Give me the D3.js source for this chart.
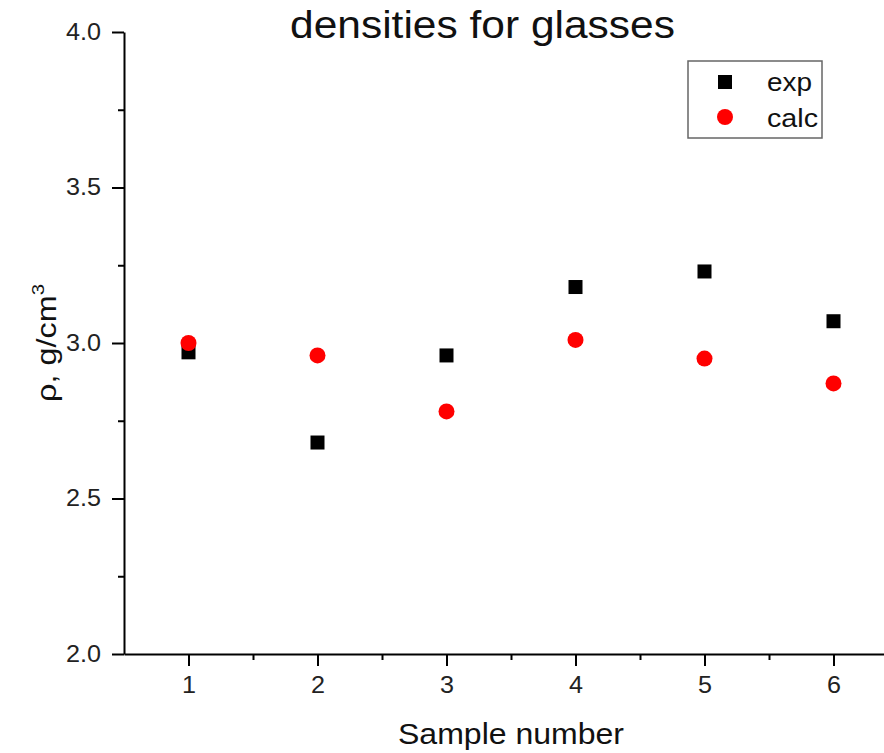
<!DOCTYPE html>
<html>
<head>
<meta charset="utf-8">
<script src="https://cdn.jsdelivr.net/npm/d3@7"></script>
<style>
  body { margin: 0; background: #fff; }
  svg { display: block; font-family: "Liberation Sans", Arial, sans-serif; }
</style>
</head>
<body>
<div id="chart"></div>
<script>
// data
var samples = [1, 2, 3, 4, 5, 6];
var expValues = [2.97, 2.68, 2.96, 3.18, 3.23, 3.07];
var calcValues = [3.00, 2.96, 2.78, 3.01, 2.95, 2.87];
var xTicks = [1, 2, 3, 4, 5, 6];
var yTicks = [2.0, 2.5, 3.0, 3.5, 4.0];
var seriesNames = ["exp", "calc"];

var svgWidth = 884;
var svgHeight = 753;
var margin = {top: 32, left: 124};
var width = 774;   // x axis runs on past the right edge
var height = 622;

// the source picture is a little wider than it is tall, stretch text to fit
var stretch = 1.16;

var svg = d3.select("#chart").append("svg")
    .attr("width", svgWidth).attr("height", svgHeight);

var chart = svg.append("g")
    .attr("transform", `translate(${margin.left},${margin.top})`);

var xScale = d3.scaleLinear().domain([0.5, 6.5]).range([0, width]);
var yScale = d3.scaleLinear().domain([2.0, 4.0]).range([height, 0]);

// minor ticks first
chart.append("g")
    .attr("class", "x-minor")
    .attr("transform", `translate(0,${height})`)
    .call(d3.axisBottom(xScale).tickValues([1.5, 2.5, 3.5, 4.5, 5.5]).tickSize(6).tickFormat(""));
chart.append("g")
    .attr("class", "y-minor")
    .call(d3.axisLeft(yScale).tickValues([2.25, 2.75, 3.25, 3.75]).tickSize(6).tickFormat(""));

chart.append("g")
    .attr("class", "x-axis")
    .attr("transform", `translate(0,${height})`)
    .call(d3.axisBottom(xScale).tickValues(xTicks).tickSize(12).tickSizeOuter(0).tickPadding(11).tickFormat(d3.format("d")));
chart.append("g")
    .attr("class", "y-axis")
    .call(d3.axisLeft(yScale).tickValues(yTicks).tickSize(12).tickSizeOuter(0).tickPadding(11).tickFormat(d3.format(".1f")));

svg.selectAll(".domain").attr("stroke", "#000").attr("stroke-width", 2);
svg.selectAll(".tick line").attr("stroke", "#000").attr("stroke-width", 2);
svg.selectAll(".x-minor .domain, .y-minor .domain").remove();

svg.selectAll(".x-axis .tick text")
    .attr("font-family", "Liberation Sans, Arial, sans-serif")
    .attr("font-size", "23px")
    .attr("fill", "#222")
    .attr("textLength", 14)
    .attr("lengthAdjust", "spacingAndGlyphs");
svg.selectAll(".y-axis .tick text")
    .attr("font-family", "Liberation Sans, Arial, sans-serif")
    .attr("font-size", "23px")
    .attr("fill", "#222")
    .attr("textLength", 35)
    .attr("lengthAdjust", "spacingAndGlyphs");

// exp points (squares)
var sq = 14;
chart.selectAll("rect.exp")
    .data(samples)
    .enter()
    .append("rect")
    .attr("class", "exp")
    .attr("x", function (d) { return xScale(d) - sq / 2; })
    .attr("y", function (d, i) { return yScale(expValues[i]) - sq / 2; })
    .attr("width", sq)
    .attr("height", sq)
    .attr("fill", "#000");

// calc points (circles)
chart.selectAll("circle.calc")
    .data(samples)
    .enter()
    .append("circle")
    .attr("class", "calc")
    .attr("cx", function (d) { return xScale(d); })
    .attr("cy", function (d, i) { return yScale(calcValues[i]); })
    .attr("r", 8)
    .attr("fill", "#ff0000");

// title
svg.append("text")
    .attr("x", 290)
    .attr("y", 38)
    .attr("font-size", "38px")
    .attr("fill", "#111")
    .attr("textLength", 385)
    .attr("lengthAdjust", "spacingAndGlyphs")
    .text("densities for glasses");

// x title
svg.append("text")
    .attr("x", 398)
    .attr("y", 744)
    .attr("font-size", "30px")
    .attr("fill", "#111")
    .attr("textLength", 226)
    .attr("lengthAdjust", "spacingAndGlyphs")
    .text("Sample number");

// y title
var yTitle = svg.append("text")
    .attr("transform", `translate(56,343)rotate(-90)scale(${stretch + 0.04},1)`)
    .attr("text-anchor", "middle")
    .attr("font-size", "27px")
    .attr("fill", "#111");
yTitle.append("tspan").text("ρ, g/cm");
yTitle.append("tspan").attr("font-size", "17px").attr("dy", "-12").text("3");

// legend
var legend = svg.append("g").attr("transform", "translate(688,61)");
legend.append("rect")
    .attr("width", 134)
    .attr("height", 77)
    .attr("fill", "#fff")
    .attr("stroke", "#666")
    .attr("stroke-width", 1.5);
legend.append("rect")
    .attr("x", 37 - sq / 2).attr("y", 21 - sq / 2)
    .attr("width", sq).attr("height", sq)
    .attr("fill", "#000");
legend.append("circle")
    .attr("cx", 37).attr("cy", 56).attr("r", 8)
    .attr("fill", "#ff0000");
var legendWidths = [45, 51];
legend.selectAll("text.label")
    .data(seriesNames)
    .enter()
    .append("text")
    .attr("class", "label")
    .attr("x", 79)
    .attr("y", function (d, i) { return 30 + i * 36; })
    .attr("font-size", "26px")
    .attr("fill", "#111")
    .attr("textLength", function (d, i) { return legendWidths[i]; })
    .attr("lengthAdjust", "spacingAndGlyphs")
    .text(function (d) { return d; });
</script>
</body>
</html>
